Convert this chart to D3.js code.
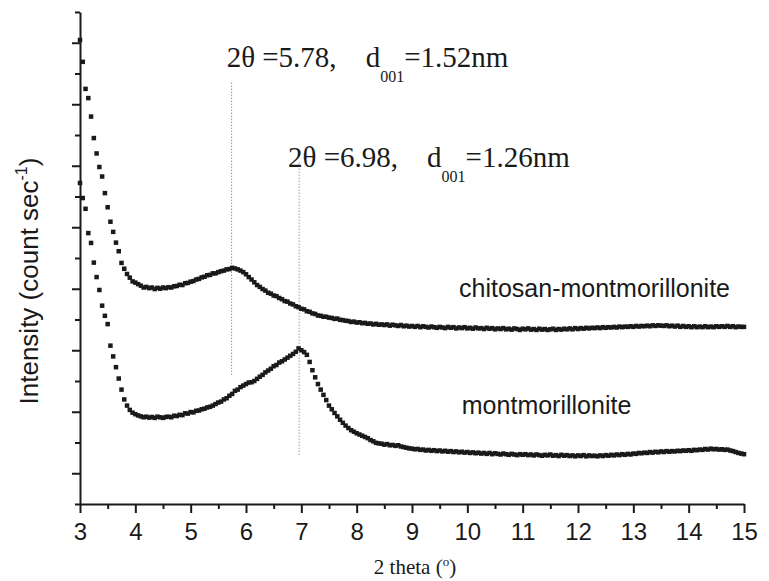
<!DOCTYPE html>
<html>
<head>
<meta charset="utf-8">
<script src="https://cdn.jsdelivr.net/npm/d3@7"></script>
<style>
    body{ margin:0; background:#fff; }
    svg{ display:block; }
</style>
</head>
<body>
<div id="chart"></div>
<script>

// XRD scans, 2 theta from 3 to 15 deg, one reading every 0.05 deg
const twoThetaStart = 3;
const twoThetaStep = 0.05;

// intensity, arbitrary units (axis is unlabelled), one row per degree
const chitosanMMT = [
    15.09,14.38,13.50,13.20,12.60,11.90,11.40,10.96,10.65,10.11,9.65,9.18,8.85,8.50,8.22,7.84,7.65,7.48,7.36,7.24,
    7.20,7.15,7.10,7.04,7.06,7.02,7.04,6.99,7.03,7.00,7.04,7.02,7.05,7.04,7.08,7.09,7.13,7.12,7.18,7.19,
    7.23,7.25,7.30,7.32,7.37,7.39,7.44,7.45,7.50,7.50,7.54,7.57,7.59,7.63,7.64,7.68,7.66,7.63,7.59,7.54,
    7.47,7.38,7.30,7.21,7.12,7.06,6.99,6.94,6.87,6.84,6.78,6.76,6.70,6.66,6.60,6.58,6.52,6.49,6.43,6.40,
    6.35,6.33,6.27,6.25,6.20,6.18,6.13,6.12,6.09,6.09,6.06,6.05,6.02,6.03,5.99,5.98,5.96,5.95,5.92,5.93,
    5.90,5.91,5.88,5.89,5.86,5.87,5.84,5.86,5.83,5.84,5.82,5.84,5.80,5.83,5.81,5.79,5.82,5.78,5.80,5.77,
    5.79,5.76,5.79,5.75,5.78,5.76,5.74,5.77,5.75,5.73,5.76,5.74,5.72,5.76,5.73,5.75,5.71,5.74,5.72,5.75,
    5.71,5.73,5.70,5.74,5.71,5.72,5.69,5.73,5.70,5.72,5.68,5.71,5.69,5.72,5.68,5.70,5.67,5.71,5.69,5.66,
    5.70,5.68,5.71,5.67,5.69,5.66,5.70,5.67,5.69,5.66,5.68,5.70,5.66,5.69,5.67,5.70,5.68,5.71,5.68,5.72,
    5.69,5.72,5.70,5.73,5.71,5.73,5.72,5.74,5.72,5.75,5.73,5.75,5.74,5.76,5.74,5.77,5.75,5.77,5.76,5.78,
    5.76,5.79,5.77,5.79,5.78,5.80,5.78,5.81,5.79,5.81,5.80,5.79,5.81,5.78,5.80,5.77,5.80,5.76,5.79,5.76,
    5.78,5.75,5.78,5.75,5.77,5.75,5.78,5.75,5.77,5.75,5.78,5.76,5.78,5.76,5.79,5.76,5.78,5.75,5.77,5.76,
    5.76
];

const montmorillonite = [
    10.44,9.95,9.60,8.81,8.49,7.85,7.38,6.96,6.45,6.12,5.85,5.15,4.80,4.45,4.08,3.72,3.40,3.20,3.06,2.97,
    2.92,2.88,2.85,2.82,2.84,2.81,2.83,2.80,2.84,2.82,2.80,2.83,2.84,2.82,2.87,2.86,2.90,2.89,2.95,2.94,
    2.99,2.98,3.03,3.04,3.08,3.10,3.14,3.16,3.20,3.25,3.30,3.33,3.40,3.44,3.52,3.58,3.68,3.72,3.80,3.85,
    3.90,3.95,3.96,4.00,4.07,4.14,4.20,4.28,4.34,4.40,4.48,4.52,4.60,4.64,4.70,4.76,4.82,4.88,4.95,5.06,
    5.00,4.94,4.85,4.62,4.35,4.12,3.90,3.72,3.55,3.38,3.20,3.08,2.96,2.85,2.74,2.64,2.55,2.47,2.40,2.35,
    2.30,2.26,2.22,2.18,2.14,2.08,2.04,1.99,1.97,1.96,1.93,1.95,1.91,1.92,1.89,1.91,1.87,1.85,1.83,1.81,
    1.80,1.78,1.79,1.76,1.77,1.74,1.76,1.73,1.75,1.72,1.74,1.71,1.73,1.70,1.72,1.69,1.71,1.68,1.70,1.67,
    1.69,1.66,1.68,1.65,1.67,1.64,1.66,1.63,1.66,1.62,1.65,1.63,1.61,1.64,1.62,1.60,1.63,1.61,1.59,1.62,
    1.60,1.62,1.59,1.61,1.58,1.61,1.59,1.57,1.60,1.58,1.61,1.57,1.59,1.56,1.60,1.57,1.59,1.56,1.58,1.55,
    1.58,1.56,1.59,1.55,1.58,1.56,1.57,1.55,1.58,1.56,1.59,1.57,1.60,1.58,1.61,1.59,1.62,1.60,1.63,1.61,
    1.64,1.63,1.66,1.65,1.67,1.66,1.69,1.67,1.70,1.68,1.71,1.69,1.72,1.70,1.72,1.71,1.73,1.72,1.74,1.73,
    1.75,1.73,1.76,1.75,1.77,1.76,1.79,1.77,1.80,1.78,1.79,1.77,1.78,1.76,1.77,1.74,1.72,1.69,1.66,1.64,
    1.62
];

const xMajorTicks = [3,4,5,6,7,8,9,10,11,12,13,14,15];
const xMinorTicks = [3.5,4.5,5.5,6.5,7.5,8.5,9.5,10.5,11.5,12.5,13.5,14.5];
const yMajorTicks = [1,3,5,7,9,11,13,15];
const yMinorTicks = [0,2,4,6,8,10,12,14,16];

// peak markers: 2 theta, d001, dotted drop line top/bottom (intensity units)
const peakTheta = [5.74, 6.96];
const peakTexts = ["5.78", "6.98"];
const peakSpacing = ["1.52nm", "1.26nm"];
const dropTop = [13.7, 11.1];
const dropBottom = [4.2, 1.55];
const peakLabelAt = [[5.65, 14.22], [6.76, 10.97]];

const seriesNames = ["chitosan-montmorillonite", "montmorillonite"];
const seriesLabelAt = [[9.85, 6.73], [9.90, 2.93]];

class XrdChart{

    constructor(){
        this.width = 769;
        this.height = 581;
        this.left = 80;
        this.right = 744;
        this.top = 12;
        this.bottom = 504;

        this.sans = "'Liberation Sans', Arial, sans-serif";
        this.serif = "'Liberation Serif', 'Times New Roman', serif";
        this.ink = "#1a1a1a";

        this.x = d3.scaleLinear().domain([3, 15]).range([this.left, this.right]);
        this.y = d3.scaleLinear().domain([0, 16]).range([this.bottom, this.top]);

        this.svg = d3.select("#chart")
            .append("svg")
            .attr("width", this.width)
            .attr("height", this.height);
    }

    draw(){
        this.svg.append("rect")
            .attr("width", this.width)
            .attr("height", this.height)
            .attr("fill", "#fff");

        this.drawDropLines();
        this.drawSeries(chitosanMMT);
        this.drawSeries(montmorillonite);
        this.drawAxes();
        this.drawLabels();
    }

    drawSeries(values){
        let pts = values.map((v, i) => ({t: twoThetaStart + i*twoThetaStep, v: v}));
        let s = 4.5;
        this.svg.append("g")
            .selectAll("rect")
            .data(pts)
            .join("rect")
            .attr("x", d => this.x(d.t) - s/2)
            .attr("y", d => this.y(d.v) - s/2)
            .attr("width", s)
            .attr("height", s)
            .attr("fill", this.ink);
    }

    drawDropLines(){
        for(let i = 0; i < peakTheta.length; i++){
            this.svg.append("line")
                .attr("x1", this.x(peakTheta[i]))
                .attr("x2", this.x(peakTheta[i]))
                .attr("y1", this.y(dropTop[i]))
                .attr("y2", this.y(dropBottom[i]))
                .attr("stroke", "#666")
                .attr("stroke-width", 1)
                .attr("stroke-dasharray", "1,2");
        }
    }

    drawAxes(){
        let xg = this.svg.append("g")
            .attr("transform", `translate(0,${this.bottom})`)
            .call(d3.axisBottom(this.x).tickValues(xMajorTicks).tickSize(9).tickSizeOuter(0).tickPadding(10).tickFormat(d3.format("d")));
        this.svg.append("g")
            .attr("transform", `translate(0,${this.bottom})`)
            .call(d3.axisBottom(this.x).tickValues(xMinorTicks).tickSize(5).tickSizeOuter(0).tickFormat(""))
            .select(".domain").remove();

        this.svg.append("g")
            .attr("transform", `translate(${this.left},0)`)
            .call(d3.axisLeft(this.y).tickValues(yMajorTicks).tickSize(8).tickSizeOuter(0).tickFormat(""));
        this.svg.append("g")
            .attr("transform", `translate(${this.left},0)`)
            .call(d3.axisLeft(this.y).tickValues(yMinorTicks).tickSize(5).tickSizeOuter(0).tickFormat(""))
            .select(".domain").remove();

        this.svg.selectAll(".domain, .tick line")
            .attr("stroke", this.ink)
            .attr("stroke-width", 2);

        xg.selectAll(".tick text")
            .attr("font-family", this.sans)
            .attr("font-size", 24)
            .attr("fill", this.ink);
    }

    drawLabels(){
        // axis titles
        let yt = this.svg.append("text")
            .attr("transform", `translate(38,281) rotate(-90)`)
            .attr("text-anchor", "middle")
            .attr("font-family", this.sans)
            .attr("font-size", 26)
            .attr("fill", this.ink);
        yt.append("tspan").text("Intensity (count sec");
        yt.append("tspan").attr("font-size", 16).attr("dy", -11).text("-1");
        yt.append("tspan").attr("dy", 11).text(")");

        let xt = this.svg.append("text")
            .attr("x", 415)
            .attr("y", 574)
            .attr("text-anchor", "middle")
            .attr("font-family", this.serif)
            .attr("font-size", 21)
            .attr("fill", this.ink);
        xt.append("tspan").text("2 theta (");
        xt.append("tspan").attr("font-size", 13).attr("dy", -8).text("o");
        xt.append("tspan").attr("dy", 8).text(")");

        // peak annotations
        for(let i = 0; i < peakTheta.length; i++){
            let t = this.svg.append("text")
                .attr("x", this.x(peakLabelAt[i][0]))
                .attr("y", this.y(peakLabelAt[i][1]))
                .attr("font-family", this.serif)
                .attr("font-size", 29)
                .attr("fill", this.ink);
            t.append("tspan").text("2\u03b8 =" + peakTexts[i] + ",");
            t.append("tspan").attr("dx", 29).text("d");
            t.append("tspan").attr("font-size", 16).attr("dy", 15).text("001");
            t.append("tspan").attr("dy", -15).text("=" + peakSpacing[i]);
        }

        // series names
        for(let i = 0; i < seriesNames.length; i++){
            this.svg.append("text")
                .attr("x", this.x(seriesLabelAt[i][0]))
                .attr("y", this.y(seriesLabelAt[i][1]))
                .attr("font-family", this.sans)
                .attr("font-size", 25)
                .attr("fill", this.ink)
                .text(seriesNames[i]);
        }
    }
}

let chart = new XrdChart();
chart.draw();

</script>
</body>
</html>
